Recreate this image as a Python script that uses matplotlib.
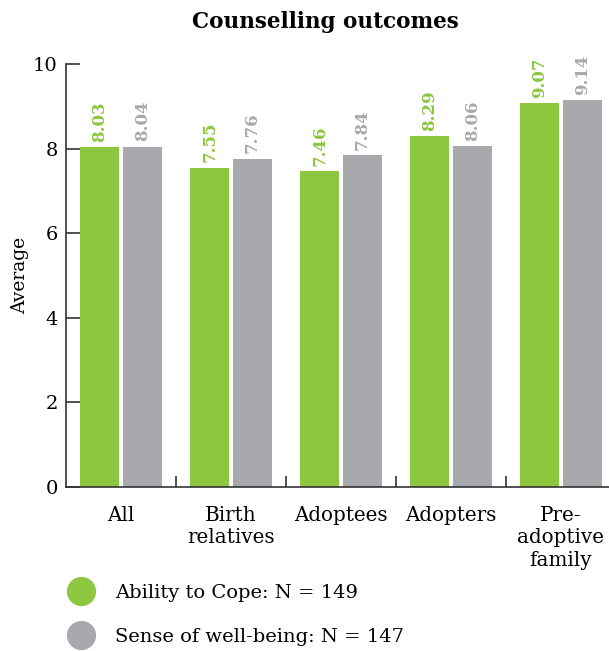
import matplotlib
matplotlib.use("Agg")
import matplotlib.pyplot as plt
import numpy as np
from matplotlib.lines import Line2D

categories = ["All", "Birth\nrelatives", "Adoptees", "Adopters", "Pre-\nadoptive\nfamily"]
cope = [8.03, 7.55, 7.46, 8.29, 9.07]
wellbeing = [8.04, 7.76, 7.84, 8.06, 9.14]
series_names = ["Ability to Cope: N = 149", "Sense of well-being: N = 147"]
yticks = [0, 2, 4, 6, 8, 10]

green = "#8DC63F"
gray = "#A7A9AC"
plt.rcParams['font.family'] = ['DejaVu Serif']

fig = plt.figure(figsize=(6.09, 6.51), dpi=100)
ax = fig.add_axes([66/609, 1-487/651, 1-66/609, (487-64)/651])

x = np.arange(len(categories))
w = 0.36
gap = 0.014
b1 = ax.bar(x - w/2 - gap, cope, w, color=green)
b2 = ax.bar(x + w/2 + gap, wellbeing, w, color=gray)

for bars, vals, c in [(b1, cope, green), (b2, wellbeing, gray)]:
    for r, v in zip(bars, vals):
        ax.annotate(f"{v:.2f}", (r.get_x() + r.get_width()/2, v), xytext=(0, 4),
                    textcoords="offset points", rotation=90, ha="center", va="bottom",
                    color=c, fontsize=12, fontweight="heavy")

ax.set_ylim(0, 10)
ax.set_xlim(-0.5, -0.5 + 543/110)
ax.set_yticks(yticks)
ax.set_yticklabels([str(t) for t in yticks], fontsize=14)
ax.set_xticks(x[:-1] + 0.5)
ax.set_xticklabels([])
ax.tick_params(axis="y", direction="in", length=10, width=1.2, color="#333333", pad=6)
ax.tick_params(axis="x", direction="in", length=8, width=1.2, color="#333333")
for t, lab in zip(x, categories):
    ax.text(t, -0.45, lab, ha="center", va="top", fontsize=14.3, linespacing=1.22)
for s in ["top", "right"]:
    ax.spines[s].set_visible(False)
for s in ["left", "bottom"]:
    ax.spines[s].set_color("#333333")
    ax.spines[s].set_linewidth(1.2)
ax.set_ylabel("Average", fontsize=13.5, labelpad=3)

fig.text(0.535, 1-22/651, "Counselling outcomes", ha="center", va="center",
         fontsize=15.5, fontweight="bold")

handles = [Line2D([0], [0], marker="o", color="none", markerfacecolor=c, markeredgecolor=c,
                  markersize=20) for c in (green, gray)]
fig.legend(handles, series_names, loc="upper left", bbox_to_anchor=(54/609, 1-576/651),
           frameon=False, fontsize=14, handletextpad=0.75, labelspacing=1.33, borderaxespad=0)

fig.savefig("out.png", dpi=100)
